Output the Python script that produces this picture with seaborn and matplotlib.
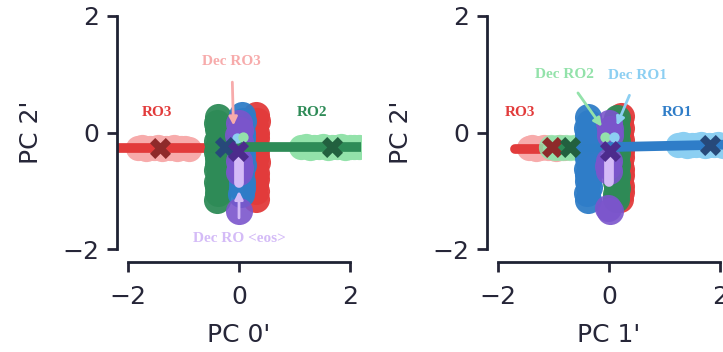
import numpy as np
import pandas as pd
import matplotlib
matplotlib.use("Agg")
import matplotlib.pyplot as plt
import seaborn as sns

# ---------------- colours ----------------
RED, GREEN, BLUE, PURPLE = "#e23b3b", "#2e8b57", "#2f7dc8", "#7b55cc"
PINK, LGREEN, LBLUE, LPURPLE = "#f7abab", "#93e2aa", "#8ccff2", "#d4bbf7"
DRED, DGREEN, DBLUE, DPURPLE = "#8e2a2a", "#22603f", "#27497a", "#4c2b8c"

# ---------------- panel A : PC 0' vs PC 2' ----------------
a_ro3_line_x = [-2.5, -0.3]
a_ro3_line_y = [-0.27, -0.27]
a_ro2_line_x = [0.0, 2.5]
a_ro2_line_y = [-0.25, -0.25]
a_ro3_cloud_x = [-1.82, -1.75, -1.68, -1.6, -1.53, -1.46, -1.39, -1.32, -1.25, -1.18,
                 -1.11, -1.04, -0.97, -0.9]
a_ro3_cloud_y = [-0.27, -0.25, -0.28, -0.26, -0.27, -0.25, -0.28, -0.26, -0.27, -0.25,
                 -0.28, -0.26, -0.27, -0.28]
a_ro2_cloud_x = [1.12, 1.2, 1.28, 1.36, 1.44, 1.52, 1.6, 1.68, 1.76, 1.84, 1.92, 2.0,
                 2.08, 2.16]
a_ro2_cloud_y = [-0.25, -0.23, -0.26, -0.24, -0.25, -0.23, -0.26, -0.24, -0.25, -0.23,
                 -0.26, -0.24, -0.25, -0.24]
a_red_col_x = [0.3, 0.32, 0.29, 0.31, 0.3, 0.28, 0.31, 0.3, 0.32, 0.29, 0.31, 0.3,
               0.28, 0.31, 0.3]
a_red_col_y = [0.3, 0.2, 0.1, 0.0, -0.1, -0.2, -0.3, -0.4, -0.5, -0.6, -0.7, -0.8,
               -0.9, -1.0, -1.13]
a_green_col_x = [-0.37, -0.4, -0.38, -0.36, -0.39, -0.38, -0.4, -0.37, -0.38, -0.4,
                 -0.36, -0.39, -0.38, -0.37, -0.39]
a_green_col_y = [0.26, 0.16, 0.06, -0.04, -0.14, -0.24, -0.34, -0.44, -0.54, -0.64,
                 -0.74, -0.84, -0.94, -1.04, -1.15]
a_blue_col_x = [0.05, 0.07, 0.04, 0.06, 0.05, 0.03, 0.06, 0.05, 0.07, 0.04, 0.05,
                0.06, 0.04]
a_blue_col_y = [0.3, 0.2, 0.1, 0.0, -0.1, -0.2, -0.3, -0.4, -0.55, -0.7, -0.85,
                -0.95, -1.05]
a_purple_x = [0.0, 0.02, -0.01, 0.01, 0.0, 0.01, 0.0, 0.0]
a_purple_y = [0.16, 0.05, -0.05, -0.16, -0.48, -0.6, -0.68, -1.35]
a_eos_line_x = [0.0, 0.0]
a_eos_line_y = [-0.47, -0.86]
a_dot_x = [-0.04, 0.08]
a_dot_y = [-0.1, -0.07]
a_x_x = [-1.43, 1.68, -0.25, -0.02]
a_x_y = [-0.26, -0.25, -0.24, -0.32]

# ---------------- panel B : PC 1' vs PC 2' ----------------
b_ro3_line_x = [-1.7, -0.3]
b_ro3_line_y = [-0.28, -0.28]
b_ro2_line_x = [-0.9, 0.0]
b_ro2_line_y = [-0.26, -0.26]
b_ro1_line_x = [0.0, 2.5]
b_ro1_line_y = [-0.25, -0.2]
b_ro3_cloud_x = [-1.45, -1.38, -1.31, -1.24, -1.17, -1.1, -1.03, -0.96, -0.89, -0.82]
b_ro3_cloud_y = [-0.27, -0.25, -0.28, -0.26, -0.25, -0.27, -0.26, -0.28, -0.25, -0.27]
b_ro2_cloud_x = [-1.05, -0.98, -0.91, -0.84, -0.77, -0.7, -0.63, -0.56]
b_ro2_cloud_y = [-0.25, -0.27, -0.24, -0.26, -0.25, -0.27, -0.24, -0.26]
b_ro1_cloud_x = [1.25, 1.33, 1.41, 1.49, 1.57, 1.65, 1.73, 1.81, 1.89, 1.97, 2.05,
                 2.13, 2.2]
b_ro1_cloud_y = [-0.22, -0.2, -0.23, -0.21, -0.22, -0.2, -0.23, -0.21, -0.22, -0.2,
                 -0.23, -0.21, -0.22]
b_red_col_x = [0.21, 0.2, 0.22, 0.2, 0.21, 0.2, 0.22, 0.21, 0.2, 0.22, 0.21, 0.2,
               0.22, 0.21, 0.2]
b_red_col_y = [0.28, 0.18, 0.08, -0.02, -0.12, -0.22, -0.32, -0.42, -0.52, -0.62,
               -0.72, -0.82, -0.92, -1.02, -1.14]
b_green_col_x = [0.14, 0.12, 0.15, 0.13, 0.14, 0.12, 0.15, 0.13, 0.14, 0.12, 0.15,
                 0.13, 0.14, 0.12, 0.13]
b_green_col_y = [0.25, 0.15, 0.05, -0.05, -0.15, -0.25, -0.35, -0.45, -0.55, -0.65,
                 -0.75, -0.85, -0.95, -1.05, -1.14]
b_blue_col_x = [-0.38, -0.36, -0.39, -0.37, -0.38, -0.36, -0.39, -0.38, -0.36, -0.39,
                -0.37, -0.38, -0.36, -0.39, -0.37]
b_blue_col_y = [0.27, 0.17, 0.07, -0.03, -0.13, -0.23, -0.33, -0.43, -0.53, -0.63,
                -0.73, -0.83, -0.93, -1.03, -1.15]
b_purple_x = [0.0, 0.02, 0.01, 0.0, -0.01, 0.0, -0.02, 0.02]
b_purple_y = [0.16, 0.06, -0.04, -0.48, -0.58, -0.66, -1.3, -1.34]
b_eos_line_x = [0.0, 0.0]
b_eos_line_y = [-0.47, -0.85]
b_dot_x = [-0.07, 0.09]
b_dot_y = [-0.08, -0.08]
b_x_x = [-1.03, -0.7, 1.83, 0.02]
b_x_y = [-0.25, -0.25, -0.22, -0.32]

ticks = [-2, 0, 2]
tick_labels = ["\u22122", "0", "2"]

sns.set_theme(style="ticks")
plt.rcParams["font.family"] = ["DejaVu Sans"]

fig = plt.figure(figsize=(7.23, 3.52), dpi=100)
axA = fig.add_axes([117 / 723, 91 / 352, 244 / 723, 257 / 352])
axB = fig.add_axes([487 / 723, 91 / 352, 244 / 723, 257 / 352])

BIG = 380
CLOUD = 330
SMALL = 55
XS = 230
SERIF = ["Liberation Serif", "DejaVu Serif"]


def line(ax, x, y, color, lw=7, z=2):
    sns.lineplot(x=x, y=y, ax=ax, color=color, lw=lw, sort=False, estimator=None,
                 solid_capstyle="round", zorder=z, legend=False)


def pts(ax, x, y, color, s=BIG, alpha=0.95, z=3, marker="o"):
    sns.scatterplot(x=x, y=y, ax=ax, color=color, s=s, alpha=alpha, linewidth=0,
                    zorder=z, marker=marker, legend=False)


def label(ax, txt, x, y, color):
    ax.text(x, y, txt, color=color, ha="center", va="center", family=SERIF,
            fontweight="bold", fontsize=11, zorder=6)


def arrow(ax, txt, xy, xytext, color):
    ax.annotate(txt, xy=xy, xytext=xytext, color=color, ha="center", va="center",
                family=SERIF, fontweight="bold", fontsize=11, zorder=6,
                arrowprops=dict(arrowstyle="-|>", color=color, lw=2, mutation_scale=12,
                                shrinkA=8, shrinkB=0))


# ---- panel A
pts(axA, a_ro3_cloud_x, a_ro3_cloud_y, PINK, s=CLOUD, alpha=1, z=1.5)
pts(axA, a_ro2_cloud_x, a_ro2_cloud_y, LGREEN, s=CLOUD, alpha=1, z=1.5)
line(axA, a_ro3_line_x, a_ro3_line_y, RED, z=2)
pts(axA, a_red_col_x, a_red_col_y, RED, z=3)
pts(axA, a_green_col_x, a_green_col_y, GREEN, z=3.1)
pts(axA, a_blue_col_x, a_blue_col_y, BLUE, z=3.2)
pts(axA, a_purple_x, a_purple_y, PURPLE, alpha=0.9, z=3.3)
line(axA, a_ro2_line_x, a_ro2_line_y, GREEN, z=3.4)
line(axA, a_eos_line_x, a_eos_line_y, LPURPLE, z=3.5)
pts(axA, a_dot_x[:1], a_dot_y[:1], LBLUE, s=SMALL, alpha=1, z=3.6)
pts(axA, a_dot_x[1:], a_dot_y[1:], LGREEN, s=SMALL, alpha=1, z=3.7)
for x, y, c in zip(a_x_x, a_x_y, [DRED, DGREEN, DBLUE, DPURPLE]):
    pts(axA, [x], [y], c, s=XS, alpha=1, z=4, marker="X")

label(axA, "RO3", -1.48, 0.34, RED)
label(axA, "RO2", 1.32, 0.34, GREEN)
arrow(axA, "Dec RO3", (-0.1, 0.12), (-0.13, 1.22), PINK)
arrow(axA, "Dec RO <eos>", (0.0, -1.0), (0.0, -1.82), LPURPLE)

# ---- panel B
pts(axB, b_ro3_cloud_x, b_ro3_cloud_y, PINK, s=CLOUD, alpha=1, z=1.5)
line(axB, b_ro3_line_x, b_ro3_line_y, RED, z=2)
pts(axB, b_ro2_cloud_x, b_ro2_cloud_y, LGREEN, s=CLOUD, alpha=0.85, z=2.5)
line(axB, b_ro2_line_x, b_ro2_line_y, GREEN, z=2.7)
pts(axB, b_ro1_cloud_x, b_ro1_cloud_y, LBLUE, s=CLOUD, alpha=1, z=1.5)
pts(axB, b_red_col_x, b_red_col_y, RED, z=3)
pts(axB, b_green_col_x, b_green_col_y, GREEN, z=3.1)
pts(axB, b_blue_col_x, b_blue_col_y, BLUE, z=3.2)
pts(axB, b_purple_x, b_purple_y, PURPLE, alpha=0.9, z=3.3)
line(axB, b_ro1_line_x, b_ro1_line_y, BLUE, z=3.4)
line(axB, b_eos_line_x, b_eos_line_y, LPURPLE, z=3.5)
pts(axB, b_dot_x[:1], b_dot_y[:1], LGREEN, s=SMALL, alpha=1, z=3.6)
pts(axB, b_dot_x[1:], b_dot_y[1:], LBLUE, s=SMALL, alpha=1, z=3.6)
for x, y, c in zip(b_x_x, b_x_y, [DRED, DGREEN, DBLUE, DPURPLE]):
    pts(axB, [x], [y], c, s=XS, alpha=1, z=4, marker="X")

label(axB, "RO3", -1.6, 0.34, RED)
label(axB, "RO1", 1.23, 0.34, BLUE)
arrow(axB, "Dec RO2", (-0.13, 0.1), (-0.8, 1.0), LGREEN)
arrow(axB, "Dec RO1", (0.14, 0.12), (0.52, 0.98), LBLUE)

for ax, xl in [(axA, "PC 0'"), (axB, "PC 1'")]:
    ax.set_xlim(-2.2, 2.2)
    ax.set_ylim(-2.2, 2.2)
    ax.set_xticks(ticks)
    ax.set_yticks(ticks)
    ax.set_xticklabels(tick_labels)
    ax.set_yticklabels(tick_labels)
    ax.set_xlabel(xl, fontsize=18, color="#262638", labelpad=10)
    ax.set_ylabel("PC 2'", fontsize=18, color="#262638", labelpad=14)
    ax.tick_params(labelsize=18, length=7, width=2, colors="#262638")
    ax.tick_params(axis="x", pad=9)
    ax.tick_params(axis="y", pad=6)
    sns.despine(ax=ax, trim=True)
    for sp in ["left", "bottom"]:
        ax.spines[sp].set_linewidth(2)
        ax.spines[sp].set_color("#1e2233")
    ax.spines["bottom"].set_position(("outward", 1))
    ax.set_facecolor("none")

fig.savefig("out.png", dpi=100)
